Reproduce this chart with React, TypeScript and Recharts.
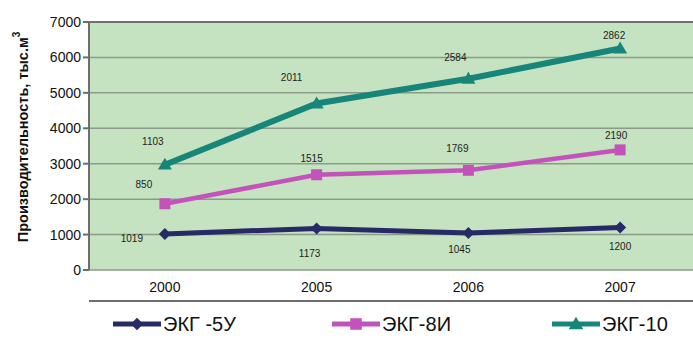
import React from "react";
import {
  ComposedChart,
  Area,
  XAxis,
  YAxis,
  CartesianGrid,
  Legend,
  ReferenceLine,
  LabelList,
} from "recharts";

// Annual output per excavator model (values are stacked on the chart)
const years = ["2000", "2005", "2006", "2007"];
const ekg5u = [1019, 1173, 1045, 1200];
const ekg8i = [850, 1515, 1769, 2190];
const ekg10 = [1103, 2011, 2584, 2862];
const yTicks = [0, 1000, 2000, 3000, 4000, 5000, 6000, 7000];

const FONT = "Arial, 'Liberation Sans', sans-serif";

const data = years.map((year, i) => ({
  year,
  idx: i,
  ekg5u: ekg5u[i],
  ekg8i: ekg8i[i],
  ekg10: ekg10[i],
}));

type Marker = "diamond" | "square" | "triangle";

const drawMarker = (kind: Marker, cx: number, cy: number, color: string, s = 1) => {
  if (kind === "diamond") {
    const r = 6 * s;
    return (
      <polygon
        points={`${cx},${cy - r} ${cx + r},${cy} ${cx},${cy + r} ${cx - r},${cy}`}
        fill={color}
      />
    );
  }
  if (kind === "square") {
    const h = 5.5 * s;
    return <rect x={cx - h} y={cy - h} width={2 * h} height={2 * h} fill={color} />;
  }
  const r = 7 * s;
  return (
    <polygon
      points={`${cx},${cy - r} ${cx + r},${cy + r * 0.7} ${cx - r},${cy + r * 0.7}`}
      fill={color}
    />
  );
};

// label displacement from each point (dx, dy)
const series = [
  {
    key: "ekg5u",
    name: "ЭКГ -5У",
    color: "#262a66",
    width: 5,
    marker: "diamond" as Marker,
    values: ekg5u,
    nudge: [
      [-33, 5],
      [-7, 25],
      [-9, 17],
      [0, 19],
    ],
  },
  {
    key: "ekg8i",
    name: "ЭКГ-8И",
    color: "#c352bb",
    width: 4.5,
    marker: "square" as Marker,
    values: ekg8i,
    nudge: [
      [-21, -19],
      [-5, -16],
      [-11, -22],
      [-4, -14],
    ],
  },
  {
    key: "ekg10",
    name: "ЭКГ-10",
    color: "#17857a",
    width: 6,
    marker: "triangle" as Marker,
    values: ekg10,
    nudge: [
      [-12, -23],
      [-25, -26],
      [-13, -21],
      [-6, -13],
    ],
  },
];

const legendStarts = [113, 332, 552];

const LegendContent = () => (
  <div style={{ position: "relative", width: 693, height: 30 }}>
    {series.map((s, i) => (
      <div
        key={s.key}
        style={{
          position: "absolute",
          left: legendStarts[i],
          top: 0,
          height: 30,
          display: "flex",
          alignItems: "center",
        }}
      >
        <svg width={48} height={16} style={{ display: "block" }}>
          <line x1={0} y1={8} x2={48} y2={8} stroke={s.color} strokeWidth={5} />
          {drawMarker(s.marker, 24, 8, s.color, 1.05)}
        </svg>
        <span
          style={{
            fontFamily: FONT,
            fontSize: 20,
            color: "#111",
            marginLeft: 2,
            lineHeight: "30px",
          }}
        >
          {s.name}
        </span>
      </div>
    ))}
  </div>
);

const YTitle = () => (
  <text
    x={23}
    y={137}
    transform="rotate(-90 23 137)"
    textAnchor="middle"
    dominantBaseline="central"
    fontFamily={FONT}
    fontSize={14.5}
    fontWeight="bold"
    fill="#111"
  >
    Производительность, тыс.м
    <tspan fontSize={10} dy={-7}>
      3
    </tspan>
  </text>
);

export default function App() {
  return (
    <div
      style={{
        position: "absolute",
        left: 0,
        top: 0,
        width: 693,
        height: 339,
        overflow: "hidden",
        background: "#fff",
      }}
    >
      <ComposedChart
        width={696}
        height={339}
        data={data}
        margin={{ top: 22, right: 0, bottom: 0, left: 0 }}
      >
        <CartesianGrid
          xAxisId="idx"
          vertical={false}
          fill="#c5e3c0"
          stroke="#8c9b87"
          strokeWidth={1.5}
        />
        <XAxis
          xAxisId="idx"
          type="number"
          dataKey="idx"
          domain={[-0.5, 3.5]}
          ticks={[-0.5, 0.5, 1.5, 2.5, 3.5]}
          tick={false}
          tickSize={6}
          height={8}
          stroke="#6e6e6e"
          strokeWidth={2}
          allowDataOverflow
        />
        <XAxis
          xAxisId="cat"
          type="category"
          scale="band"
          dataKey="year"
          axisLine={false}
          tickLine={false}
          height={31}
          tickMargin={6}
          tick={{ fontFamily: FONT, fontSize: 14, fill: "#111" }}
        />
        <YAxis
          domain={[0, 7000]}
          ticks={yTicks}
          width={89}
          tickSize={6}
          tickMargin={2}
          stroke="#6e6e6e"
          strokeWidth={2}
          interval={0}
          tick={{ fontFamily: FONT, fontSize: 14, fill: "#111" }}
          label={<YTitle />}
        />
        <ReferenceLine xAxisId="idx" y={7000} stroke="#6a746b" strokeWidth={2} />
        {series.map((s) => (
          <Area
            key={s.key}
            xAxisId="idx"
            type="linear"
            dataKey={s.key}
            name={s.name}
            stackId="total"
            stroke={s.color}
            strokeWidth={s.width}
            fill="none"
            fillOpacity={0}
            isAnimationActive={false}
            activeDot={false}
            dot={(p: any) => (
              <g key={`${s.key}-${p.index}`}>{drawMarker(s.marker, p.cx, p.cy, s.color)}</g>
            )}
          >
            <LabelList
              dataKey={s.key}
              content={(p: any) => {
                const i = p.index as number;
                const [dx, dy] = s.nudge[i];
                return (
                  <text
                    x={Number(p.x) + dx}
                    y={Number(p.y) + dy}
                    textAnchor="middle"
                    dominantBaseline="central"
                    fontFamily={FONT}
                    fontSize={10}
                    fill="#222"
                  >
                    {s.values[i]}
                  </text>
                );
              }}
            />
          </Area>
        ))}
        <Legend verticalAlign="bottom" height={30} content={<LegendContent />} />
      </ComposedChart>
    </div>
  );
}
